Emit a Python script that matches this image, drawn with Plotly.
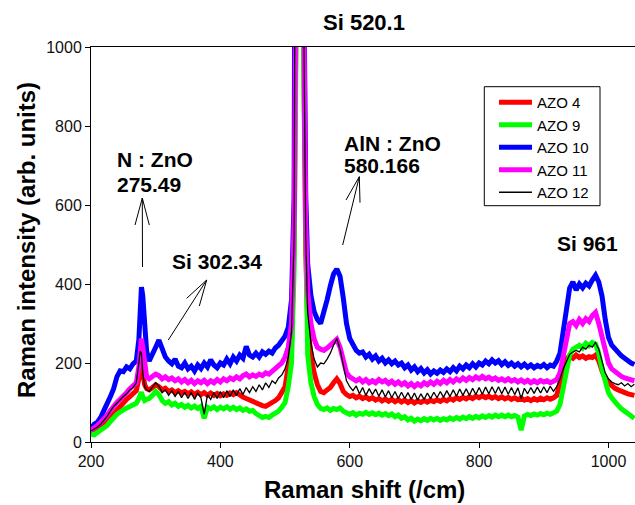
import plotly.graph_objects as go

# ---------------- data ----------------
raman_shift = [
    200, 205, 210, 215, 220, 225, 230, 235, 240, 245, 250, 255, 260, 265,
    270, 274, 276, 278, 280, 283, 286,
    290, 295, 300, 305, 310, 315, 320, 325, 330, 335,
    340, 345, 350, 355, 360, 365, 370, 375, 380, 385,
    390, 395, 400, 405, 410, 415, 420, 425, 430, 435,
    440, 445, 450, 455, 460, 465, 470, 475, 480, 485, 490, 495, 500,
    505, 510, 514, 517, 520, 523, 526, 529, 532,
    535, 540, 545, 550, 555, 560, 565, 570, 575, 580, 585, 590, 595, 600, 605, 610, 615, 620, 625, 630,
    635, 640, 645, 650, 655, 660, 665, 670, 675, 680,
    685, 690, 695, 700, 705, 710, 715, 720, 725, 730,
    735, 740, 745, 750, 755, 760, 765, 770, 775, 780,
    785, 790, 795, 800, 805, 810, 815, 820, 825, 830,
    835, 840, 845, 850, 855, 860, 865, 870, 875, 880,
    885, 890, 895, 900, 905, 910, 915, 920, 925, 930,
    935, 940, 945, 950, 955, 960, 965, 970, 975, 980,
    985, 990, 995, 1000, 1005, 1010, 1015, 1020, 1025, 1030,
    1035, 1040,
]

azo4 = [
    25, 20, 28, 35, 42, 50, 62, 72, 82, 90, 98, 108, 115, 122,
    130, 160, 195, 205, 175, 145, 135,
    132, 138, 145, 140, 132, 136, 128, 132, 125, 130,
    124, 128, 122, 127, 120, 126, 120, 125, 118, 124,
    118, 123, 117, 122, 118, 124, 120, 125, 118, 114,
    110, 106, 104, 100, 96, 92, 90, 94, 98, 105, 112, 125, 140,
    190, 250, 500, 1100, 3000, 5200, 2600, 1000, 480,
    300, 220, 175, 145, 128, 125, 132, 138, 150, 160, 148, 128, 120, 115, 118, 112, 116, 110, 114, 108,
    112, 106, 110, 104, 109, 103, 108, 102, 107, 101,
    106, 100, 105, 99, 104, 100, 105, 101, 106, 102,
    107, 103, 108, 104, 110, 106, 112, 108, 113, 109,
    114, 110, 116, 112, 117, 112, 116, 111, 115, 110,
    114, 109, 113, 108, 112, 107, 111, 106, 110, 105,
    110, 106, 111, 107, 112, 108, 112, 118, 150, 185,
    210, 218, 212, 220, 214, 218, 212, 216, 214, 220,
    205, 180, 160, 150, 142, 136, 132, 128, 125, 122,
    120, 118,
]

azo9 = [
    20, 18, 24, 30, 36, 42, 52, 62, 70, 76, 82, 86, 90, 94,
    98, 110, 122, 126, 115, 105, 108,
    110, 118, 128, 120, 105, 98, 102, 94, 98, 90,
    95, 88, 93, 86, 91, 85, 90, 60, 88, 84,
    89, 82, 88, 84, 89, 83, 88, 82, 86, 80,
    84, 78, 80, 72, 66, 62, 65, 62, 68, 72, 78, 88, 100,
    140, 200, 440, 1000, 2800, 5000, 2400, 900, 400,
    220, 150, 115, 95, 85, 82, 86, 80, 85, 82, 86, 78, 74, 70, 74, 68, 73, 70, 75, 70,
    74, 69, 73, 68, 72, 67, 71, 64, 68, 60,
    64, 56, 60, 53, 58, 54, 59, 55, 60, 56,
    60, 55, 59, 56, 61, 57, 62, 58, 63, 59,
    64, 60, 65, 61, 66, 62, 67, 63, 68, 64,
    68, 64, 68, 64, 67, 63, 30, 66, 70, 67,
    71, 68, 72, 69, 73, 70, 74, 78, 95, 140,
    185, 220, 235, 240, 245, 238, 250, 244, 252, 248,
    225, 185, 150, 125, 112, 100, 92, 84, 78, 72,
    66, 60,
]

azo10 = [
    35, 45, 50, 62, 80, 95, 115, 135, 165, 180, 178, 190, 185, 198,
    205, 260, 340, 392, 370, 290, 230,
    205, 220, 240, 258, 235, 215, 205, 198, 210, 192,
    188, 200, 185, 192, 180, 195, 186, 200, 190, 208,
    195, 188, 200, 195, 210, 198, 215, 205, 220, 212,
    242, 220, 215, 225, 215, 228, 222, 230, 225, 238, 245, 255, 268,
    290, 360, 620, 1300, 3500, 6000, 3000, 1200, 620,
    450, 370, 330, 310, 300, 325, 360, 395, 425, 438, 420, 365, 300, 262, 245, 232, 225, 228, 215, 222,
    210, 218, 205, 212, 200, 208, 198, 205, 195, 200,
    188, 195, 182, 190, 178, 186, 175, 183, 172, 180,
    174, 182, 176, 185, 178, 188, 180, 192, 185, 195,
    188, 198, 190, 200, 195, 205, 198, 208, 200, 206,
    196, 203, 194, 200, 192, 198, 190, 197, 189, 195,
    188, 194, 190, 196, 188, 195, 192, 205, 225, 275,
    340, 390, 405, 385, 400, 390, 402, 395, 410, 422,
    405, 370, 310, 265, 245, 235, 225, 218, 212, 205,
    200, 196,
]

azo11 = [
    30, 35, 42, 50, 58, 68, 80, 92, 100, 108, 115, 125, 135, 142,
    150, 190, 235, 262, 240, 190, 165,
    160, 165, 172, 168, 160, 165, 158, 162, 155, 160,
    152, 158, 150, 156, 148, 155, 150, 156, 148, 155,
    150, 158, 152, 160, 155, 162, 158, 165, 160, 168,
    172, 165, 170, 166, 172, 168, 175, 172, 180, 185, 192, 200, 215,
    240, 300, 560, 1200, 3200, 5500, 2800, 1100, 560,
    380, 300, 260, 240, 235, 232, 238, 245, 252, 260, 240, 205, 175, 165, 160, 155, 160, 152, 158, 150,
    155, 150, 158, 152, 156, 148, 154, 146, 152, 145,
    150, 142, 148, 140, 147, 142, 150, 145, 152, 146,
    154, 148, 156, 150, 158, 152, 160, 155, 162, 156,
    163, 158, 165, 160, 166, 160, 164, 158, 162, 156,
    160, 155, 160, 154, 158, 152, 157, 151, 156, 150,
    155, 150, 156, 152, 155, 150, 154, 158, 175, 215,
    265, 300, 305, 295, 310, 300, 312, 305, 320, 328,
    300, 265, 225, 200, 185, 178, 170, 166, 162, 160,
    158, 155,
]

azo12 = [
    28, 32, 38, 45, 55, 65, 78, 90, 98, 108, 115, 122, 132, 138,
    150, 200, 230, 225, 175, 140, 132,
    128, 140, 150, 142, 125, 132, 118, 130, 115, 128,
    112, 126, 110, 125, 108, 124, 112, 70, 120, 108,
    125, 110, 128, 112, 130, 115, 132, 118, 135, 120,
    138, 125, 140, 128, 145, 132, 150, 138, 155, 148, 162, 170, 185,
    215, 280, 520, 1150, 3100, 5300, 2700, 1050, 520,
    330, 250, 210, 190, 200, 198, 210, 225, 245, 262, 235, 190, 155, 140, 130, 142, 122, 138, 118, 135,
    120, 134, 116, 132, 114, 130, 112, 128, 110, 126,
    110, 125, 108, 124, 106, 122, 108, 124, 110, 126,
    112, 128, 113, 130, 115, 132, 116, 134, 118, 135,
    118, 136, 120, 138, 121, 139, 122, 140, 123, 140,
    122, 139, 121, 138, 120, 137, 110, 136, 122, 138,
    123, 139, 124, 140, 125, 141, 128, 140, 160, 185,
    205, 222, 228, 232, 228, 240, 235, 245, 240, 252,
    235, 205, 175, 160, 152, 148, 145, 150, 142, 148,
    140, 146,
]

series_names = ["AZO 4", "AZO 9", "AZO 10", "AZO 11", "AZO 12"]
series_values = [azo4, azo9, azo10, azo11, azo12]
series_colors = ["#ff0000", "#00ff00", "#0000ff", "#ff00ff", "#000000"]
series_widths = [5, 5, 5, 5, 1.3]

x_ticks = [200, 400, 600, 800, 1000]
y_ticks = [0, 200, 400, 600, 800, 1000]

# ---------------- layout geometry ----------------
W, H = 635, 505
ML, MR, MT, MB = 91, 0, 47, 63
PW, PH = W - ML - MR, H - MT - MB
XR = [200, 1041]
YR = [0, 1000]


def px2x(px):
    return XR[0] + (px - ML) / PW * (XR[1] - XR[0])


def py2y(py):
    return YR[0] + (MT + PH - py) / PH * (YR[1] - YR[0])


def px2p(px):
    return (px - ML) / PW


def py2p(py):
    return (MT + PH - py) / PH


FONT = "Arial, 'Liberation Sans', sans-serif"

fig = go.Figure()
for name, vals, col, wd in zip(series_names, series_values, series_colors, series_widths):
    fig.add_trace(go.Scatter(x=raman_shift, y=vals, mode="lines", name=name,
                             line=dict(color=col, width=wd), hoverinfo="skip"))

shapes = []


def seg(p0, p1):
    shapes.append(dict(type="line", xref="x", yref="y",
                       x0=px2x(p0[0]), y0=py2y(p0[1]), x1=px2x(p1[0]), y1=py2y(p1[1]),
                       line=dict(color="black", width=1)))


# arrows (shaft + open head)
arrows = [
    ((142.5, 267), (142.3, 198), (135, 225), (149.3, 225)),
    ((168.3, 340), (206.7, 280), (186.7, 298.3), (199.3, 306)),
    ((342.7, 245), (359.3, 176.7), (346, 200), (360, 202.7)),
]
for a, tip, b1, b2 in arrows:
    seg(a, tip)
    seg(tip, b1)
    seg(tip, b2)

# legend frame
shapes.append(dict(type="rect", xref="paper", yref="paper",
                   x0=px2p(484.3), x1=px2p(600), y0=py2p(205.7), y1=py2p(86.7),
                   line=dict(color="black", width=1), fillcolor="white", layer="above"))

annotations = []


def label(text, left, cy, size=21):
    annotations.append(dict(text="<b>%s</b>" % text, xref="paper", yref="paper",
                            x=px2p(left), y=py2p(cy), xanchor="left", yanchor="middle",
                            showarrow=False, font=dict(family=FONT, size=size, color="black")))


label("N : ZnO", 115, 159.5)
label("275.49", 115, 184.5)
label("Si 302.34", 170, 261)
label("AlN : ZnO", 341.5, 143.5)
label("580.166", 341.5, 165)
label("Si 961", 554.5, 243)
label("Si 520.1", 320.5, 23, size=22)

annotations.append(dict(text="<b>Raman shift (/cm)</b>", xref="paper", yref="paper",
                        x=px2p(364), y=py2p(489.5), xanchor="center", yanchor="middle",
                        showarrow=False, font=dict(family=FONT, size=24, color="black")))
annotations.append(dict(text="<b>Raman intensity (arb. units)</b>", xref="paper", yref="paper",
                        x=px2p(26), y=py2p(240), xanchor="center", yanchor="middle",
                        textangle=-90, showarrow=False,
                        font=dict(family=FONT, size=24, color="black")))

fig.update_layout(
    width=W, height=H,
    margin=dict(l=ML, r=MR, t=MT, b=MB, pad=0),
    paper_bgcolor="white", plot_bgcolor="white",
    showlegend=True,
    legend=dict(x=px2p(494), y=py2p(86), xanchor="left", yanchor="top",
                bgcolor="rgba(0,0,0,0)", borderwidth=0,
                font=dict(family=FONT, size=15, color="black"),
                itemwidth=33, tracegroupgap=0),
    shapes=shapes,
    annotations=annotations,
    font=dict(family=FONT, color="black"),
)
fig.update_xaxes(range=XR, tickvals=x_ticks, ticktext=[str(v) for v in x_ticks],
                 showgrid=False, zeroline=False, showline=True, linecolor="black",
                 linewidth=1, mirror=True, ticks="outside", ticklen=5, tickcolor="black",
                 tickfont=dict(family=FONT, size=16, color="#111111"))
fig.update_yaxes(range=YR, tickvals=y_ticks, ticktext=[str(v) for v in y_ticks],
                 showgrid=False, zeroline=False, showline=True, linecolor="black",
                 linewidth=1, mirror=False, ticks="outside", ticklen=5, tickcolor="black",
                 tickfont=dict(family=FONT, size=16, color="#111111"))

fig.write_html("out.html", config={"displayModeBar": False},
               post_script="document.body.style.margin='0px';document.body.style.overflow='hidden';")
